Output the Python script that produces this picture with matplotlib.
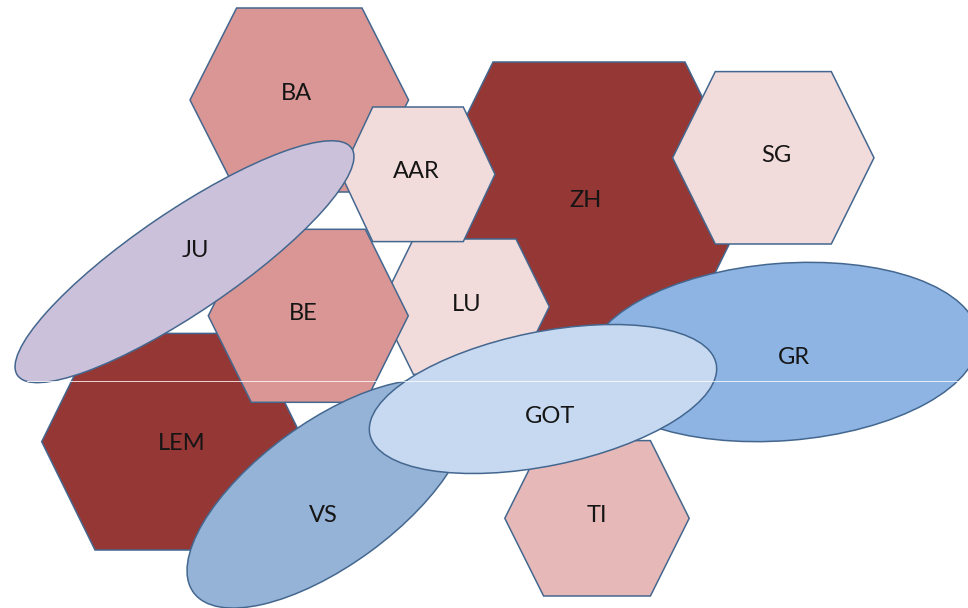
import matplotlib
matplotlib.use("Agg")
import matplotlib.pyplot as plt
from matplotlib.patches import Polygon, Ellipse

# ---- data (pixel-space layout of the diagram) ----
hex_names = ["ZH", "BA", "LEM", "LU", "BE", "AAR", "SG", "TI"]
hex_cx = [589, 299.3, 172.9, 464.7, 308.3, 418, 773.3, 597]
hex_cy = [198, 100, 441.7, 306.7, 315.8, 174.3, 157.8, 518.3]
hex_halfw = [163, 109.3, 131.2, 84.6, 100, 77, 100.7, 92.2]
hex_halfh = [136, 92, 108.3, 67.7, 86.5, 67.3, 86.2, 77.7]
hex_halftop = [96, 62.7, 77.9, 51.3, 57, 45.3, 58, 53.4]
hex_colors = ["#953735", "#D99694", "#953735", "#F2DCDB", "#D99694",
              "#F2DCDB", "#F2DCDB", "#E6B9B8"]
hex_label_x = [585, 296.7, 181.7, 466.7, 303.3, 416.7, 776.7, 596.7]
hex_label_y = [198.3, 91.7, 441.7, 302.3, 311.7, 170, 154, 513.3]

ell_names = ["JU", "GR", "VS", "GOT"]
ell_cx = [184.5, 783, 328, 543]
ell_cy = [261.7, 352, 494, 399]
ell_a = [202, 196, 166.7, 176.7]
ell_b = [50.4, 88.6, 71.4, 67]
ell_tilt = [34.2, 4.5, 36.2, 11.5]
ell_colors = ["#CCC1DA", "#8EB4E3", "#95B3D7", "#C6D9F1"]
ell_label_x = [195, 794, 323.3, 550]
ell_label_y = [248.3, 356, 513.3, 415]

EDGE = "#44678F"
W, H = 968, 608

fig = plt.figure(figsize=(W / 100, H / 100), dpi=100)
ax = fig.add_axes([0, 0, 1, 1])
ax.set_xlim(0, W)
ax.set_ylim(H, 0)
ax.axis("off")

FONT = dict(family=["Lato", "DejaVu Sans"], fontsize=17, color="#151515")
CAP = 8.4  # half cap height in px, to centre labels visually


def hexagon(cx, cy, w, h, t):
    return [(cx - w, cy), (cx - t, cy - h), (cx + t, cy - h),
            (cx + w, cy), (cx + t, cy + h), (cx - t, cy + h)]


z = 1
for i, name in enumerate(hex_names):
    ax.add_patch(Polygon(hexagon(hex_cx[i], hex_cy[i], hex_halfw[i],
                                 hex_halfh[i], hex_halftop[i]),
                         closed=True, facecolor=hex_colors[i],
                         edgecolor=EDGE, linewidth=1.1, zorder=z))
    ax.text(hex_label_x[i], hex_label_y[i] + CAP, name, ha="center",
            va="baseline", zorder=z + 0.5, **FONT)
    z += 1

for i, name in enumerate(ell_names):
    ax.add_patch(Ellipse((ell_cx[i], ell_cy[i]), 2 * ell_a[i], 2 * ell_b[i],
                         angle=-ell_tilt[i], facecolor=ell_colors[i],
                         edgecolor=EDGE, linewidth=1.1, zorder=z))
    ax.text(ell_label_x[i], ell_label_y[i] + CAP, name, ha="center",
            va="baseline", zorder=z + 0.5, **FONT)
    z += 1

# faint horizontal scan line present in the reference image
ax.plot([27, W], [380.5, 380.5], color="white", linewidth=0.7, alpha=0.8,
        zorder=z + 1)

fig.savefig("out.png", dpi=100)
